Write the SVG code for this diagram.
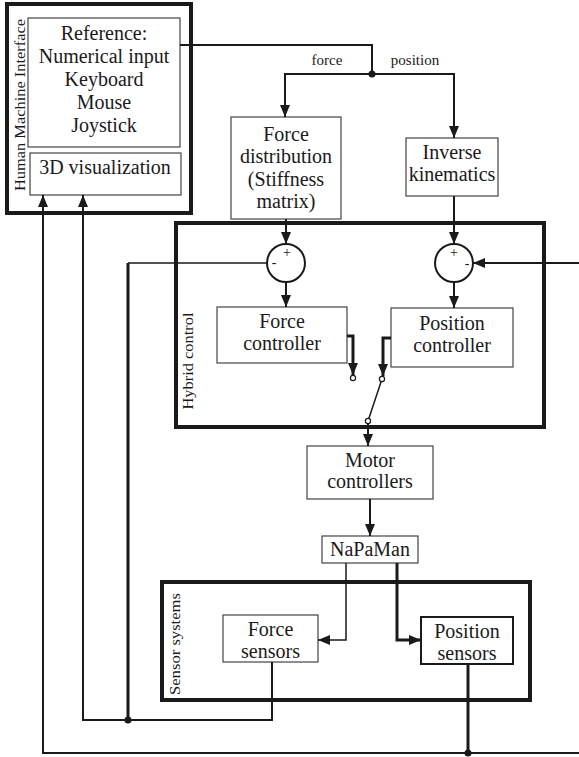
<svg xmlns="http://www.w3.org/2000/svg" width="579" height="757" viewBox="0 0 579 757">
<style>
text{font-family:"Liberation Serif","Times New Roman",serif;fill:#1a1a1a;text-anchor:middle}
.t{font-size:20px}
.lbl{font-size:15px}
.sg{font-size:14px}
.box{fill:#fff;stroke:#444;stroke-width:1.2}
.grp{fill:none;stroke:#1a1a1a;stroke-width:4}
.c{fill:none;stroke:#1a1a1a;stroke-linejoin:miter}
.thin{stroke-width:1.5}
.med{stroke-width:2}
.thick{stroke-width:3}
.sw{fill:#fff;stroke:#1a1a1a;stroke-width:1.2}
.dot{fill:#1a1a1a}
</style>
<defs>
<marker id="ar" markerUnits="userSpaceOnUse" markerWidth="12" markerHeight="10" refX="12" refY="5" orient="auto">
<path d="M0,0 L12,5 L0,10 z" fill="#1a1a1a"/>
</marker>
</defs>
<rect width="579" height="757" fill="#fff"/>

<g id="hmi">
<rect class="grp" x="7" y="4" width="184" height="209"/>
<text class="lbl" transform="translate(25,105) rotate(-90)" textLength="172" lengthAdjust="spacingAndGlyphs">Human Machine Interface</text>
</g>
<g id="reference">
<rect class="box" x="28" y="18" width="152" height="129"/>
<text class="t" x="104" y="40">Reference:</text>
<text class="t" x="104" y="63">Numerical input</text>
<text class="t" x="104" y="86">Keyboard</text>
<text class="t" x="104" y="109">Mouse</text>
<text class="t" x="104" y="132">Joystick</text>
</g>
<g id="visualization">
<rect class="box" x="30" y="153" width="151" height="42"/>
<text class="t" x="105" y="174">3D visualization</text>
</g>

<g id="hybrid">
<rect class="grp" x="176" y="223" width="368" height="204"/>
<text class="lbl" transform="translate(193,361) rotate(-90)" textLength="97" lengthAdjust="spacingAndGlyphs">Hybrid control</text>
</g>
<g id="sensors">
<rect class="grp" x="162" y="582" width="368" height="118"/>
<text class="lbl" transform="translate(180,644) rotate(-90)" textLength="102" lengthAdjust="spacingAndGlyphs">Sensor systems</text>
</g>

<g id="force-distribution">
<rect class="box" x="231" y="117" width="110" height="102"/>
<text class="t" x="286" y="141">Force</text>
<text class="t" x="286" y="163">distribution</text>
<text class="t" x="286" y="186">(Stiffness</text>
<text class="t" x="286" y="208">matrix)</text>
</g>
<g id="inverse-kinematics">
<rect class="box" x="406" y="138" width="92" height="58"/>
<text class="t" x="452" y="159">Inverse</text>
<text class="t" x="452" y="181">kinematics</text>
</g>
<g id="sum-force">
<circle cx="286" cy="263" r="19" fill="#fff" stroke="#1a1a1a" stroke-width="2"/>
<text class="sg" x="287" y="257">+</text>
<text class="sg" x="274" y="267">-</text>
</g>
<g id="sum-position">
<circle cx="454" cy="263" r="19" fill="#fff" stroke="#1a1a1a" stroke-width="2"/>
<text class="sg" x="454" y="257">+</text>
<text class="sg" x="467" y="268">-</text>
</g>
<g id="force-controller">
<rect class="box" x="217" y="307" width="130" height="56"/>
<text class="t" x="282" y="328">Force</text>
<text class="t" x="282" y="350">controller</text>
</g>
<g id="position-controller">
<rect class="box" x="391" y="308" width="122" height="59"/>
<text class="t" x="452" y="330">Position</text>
<text class="t" x="452" y="352">controller</text>
</g>
<g id="motor-controllers">
<rect class="box" x="307" y="446" width="126" height="53"/>
<text class="t" x="370" y="467">Motor</text>
<text class="t" x="370" y="488">controllers</text>
</g>
<g id="napaman">
<rect class="box" x="322" y="536" width="96" height="27"/>
<text class="t" x="370" y="556">NaPaMan</text>
</g>
<g id="force-sensors">
<rect class="box" x="223" y="615" width="95" height="47"/>
<text class="t" x="270.5" y="636">Force</text>
<text class="t" x="270.5" y="658">sensors</text>
</g>
<g id="position-sensors">
<rect class="box" x="421" y="617" width="92" height="47" style="stroke:#1a1a1a;stroke-width:2"/>
<text class="t" x="467" y="638">Position</text>
<text class="t" x="467" y="660">sensors</text>
</g>

<g id="connectors">
<polyline class="c med" points="180,45 372,45 372,74"/>
<polyline class="c med" points="372,74 285,74 285,117" marker-end="url(#ar)"/>
<polyline class="c med" points="372,74 454,74 454,138" marker-end="url(#ar)"/>
<circle class="dot" cx="372" cy="74" r="3.5"/>
<text class="lbl" x="327" y="65">force</text>
<text class="lbl" x="415" y="65">position</text>

<line class="c med" x1="286" y1="219" x2="286" y2="244" marker-end="url(#ar)"/>
<line class="c med" x1="286" y1="282" x2="286" y2="307" marker-end="url(#ar)"/>
<line class="c med" x1="454" y1="196" x2="454" y2="244" marker-end="url(#ar)"/>
<line class="c med" x1="454" y1="282" x2="454" y2="308" marker-end="url(#ar)"/>
<line class="c med" x1="579" y1="263" x2="473" y2="263" marker-end="url(#ar)"/>

<polyline class="c thick" points="347,336 353,336 353,375" marker-end="url(#ar)"/>
<polyline class="c thick" points="391,338 383,338 383,376" marker-end="url(#ar)"/>
<line class="c thin" x1="382" y1="379" x2="368" y2="421"/>
<circle class="sw" cx="353" cy="378" r="2.6"/>
<circle class="sw" cx="382" cy="379" r="2.6"/>
<circle class="sw" cx="368" cy="421" r="2.6"/>
<line class="c med" x1="368" y1="424" x2="368" y2="446" marker-end="url(#ar)"/>

<line class="c med" x1="370" y1="499" x2="370" y2="536" marker-end="url(#ar)"/>
<polyline class="c thin" points="346,563 346,640 318,640" marker-end="url(#ar)"/>
<polyline class="c thick" points="397,563 397,640 421,640" marker-end="url(#ar)"/>

<polyline class="c thin" points="267,263 128,263"/>
<line class="c thick" x1="128" y1="263" x2="128" y2="720"/>
<polyline class="c med" points="272,662 272,720 83,720 83,195" marker-end="url(#ar)"/>
<circle class="dot" cx="128" cy="720" r="3.5"/>
<line class="c thick" x1="468" y1="664" x2="468" y2="753"/>
<polyline class="c med" points="579,753 43,753 43,195" marker-end="url(#ar)"/>
<circle class="dot" cx="468" cy="753" r="3.5"/>
</g>
</svg>
